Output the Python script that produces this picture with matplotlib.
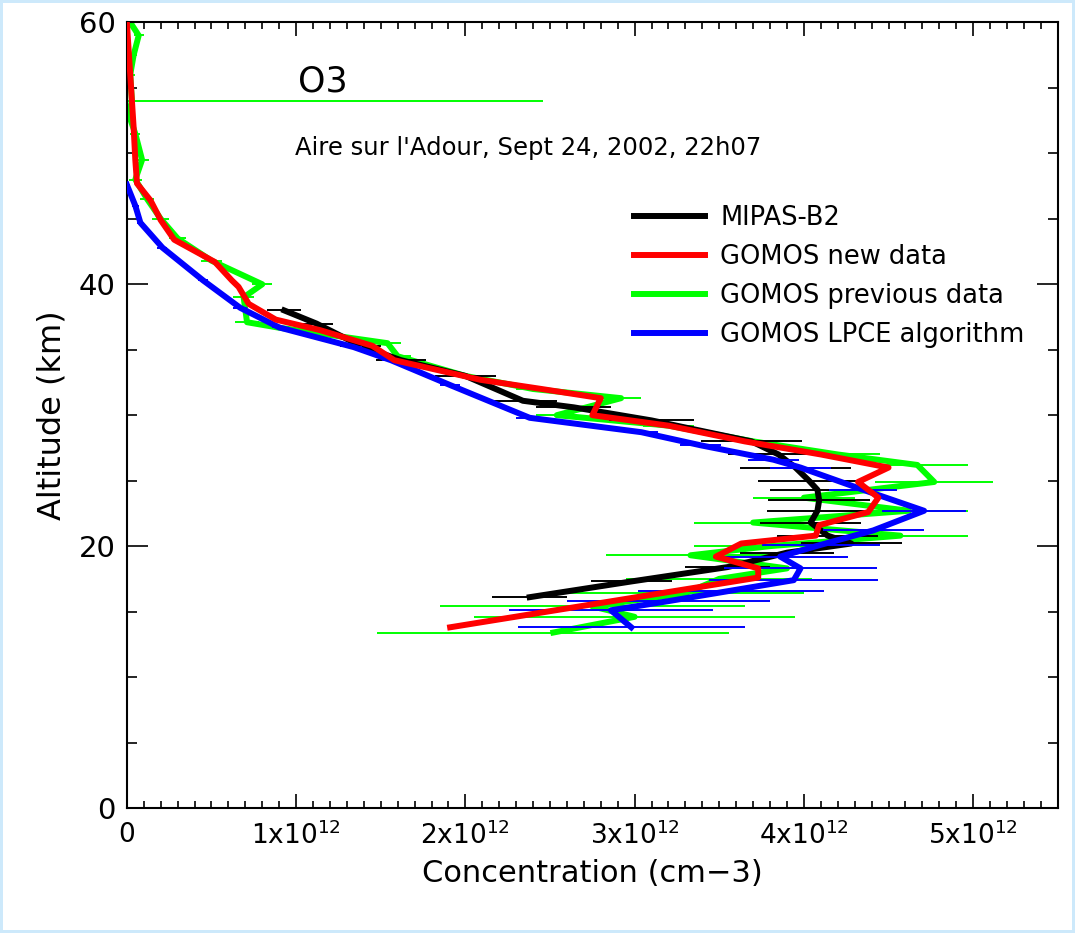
import matplotlib.pyplot as plt
from matplotlib.ticker import MultipleLocator

# MIPAS-B2
mipas_alt = [38.0, 37.0, 35.3, 34.2, 33.0, 31.1, 30.6, 29.6, 28.0, 27.0, 26.0, 25.0, 24.3,
             23.5, 22.7, 21.8, 20.8, 20.2, 19.5, 18.4, 17.3, 16.1]
mipas_x = [0.93, 1.12, 1.38, 1.62, 2.0, 2.34, 2.64, 3.1, 3.69, 3.85, 3.95, 4.03, 4.08,
           4.09, 4.08, 4.04, 4.14, 4.28, 3.9, 3.55, 2.98, 2.38]
mipas_err = [0.1, 0.1, 0.12, 0.15, 0.18, 0.2, 0.22, 0.25, 0.3, 0.3, 0.33, 0.3, 0.28,
             0.3, 0.3, 0.3, 0.3, 0.3, 0.28, 0.25, 0.24, 0.22]

# GOMOS new data
new_alt = [60, 56, 52, 49.5, 47.7, 46.4, 44.9, 43.4, 41.7, 40.3, 39.8, 38.5, 37.3, 36.5,
           35.3, 34.2, 32.7, 32.0, 31.3, 30.0, 29.2, 28.0, 27.0, 26.0, 24.9, 23.7, 22.6,
           21.6, 20.8, 20.2, 19.2, 18.3, 17.6, 15.7, 13.8]
new_x = [0.0, 0.02, 0.04, 0.05, 0.06, 0.14, 0.2, 0.28, 0.52, 0.62, 0.66, 0.72, 0.88, 1.14,
         1.45, 1.58, 2.09, 2.45, 2.8, 2.75, 3.2, 3.65, 4.1, 4.5, 4.32, 4.44, 4.38,
         4.09, 4.07, 3.63, 3.48, 3.73, 3.73, 2.82, 1.91]

# GOMOS previous data
prev_alt = [60, 59, 57.5, 56, 54.0, 53, 51.5, 49.5, 48, 46.5, 45, 43.5, 41.8, 40.0, 39.0,
            37.1, 36.7, 35.5, 34.5, 33.0, 32.0, 31.3, 30.0, 29.2, 28.0, 27.0, 26.2, 24.9,
            23.7, 22.7, 21.8, 20.8, 20.0, 19.3, 18.3, 17.5, 16.4, 15.4, 14.6, 13.4]
prev_x = [0.02, 0.07, 0.04, 0.02, 0.03, 0.01, 0.05, 0.09, 0.05, 0.12, 0.2, 0.3, 0.5, 0.8,
          0.69, 0.71, 0.89, 1.54, 1.6, 2.0, 2.4, 2.92, 2.54, 3.2, 3.7, 4.2, 4.67, 4.77,
          4.0, 4.62, 3.7, 4.57, 3.8, 3.33, 3.9, 3.5, 3.3, 2.75, 3.0, 2.52]
prev_err = [0.02, 0.03, 0.02, 0.03, 2.43, 0.03, 0.03, 0.04, 0.04, 0.04, 0.05, 0.05, 0.06,
            0.06, 0.06, 0.07, 0.07, 0.08, 0.08, 0.1, 0.1, 0.12, 0.12, 0.15, 0.2, 0.25,
            0.3, 0.35, 0.3, 0.35, 0.35, 0.4, 0.45, 0.5, 0.5, 0.55, 0.7, 0.9, 0.95, 1.04]

# GOMOS LPCE algorithm
lpce_alt = [47.6, 46.0, 44.7, 42.8, 40.3, 38.2, 36.7, 35.2, 34.2, 32.3, 29.8, 28.7, 27.7,
            26.6, 26.0, 24.3, 22.7, 21.2, 20.1, 19.2, 18.3, 17.4, 16.6, 15.8, 15.1, 13.8]
lpce_x = [0.0, 0.05, 0.08, 0.21, 0.45, 0.67, 0.9, 1.34, 1.56, 1.91, 2.38, 3.04, 3.39,
          3.82, 3.98, 4.35, 4.71, 4.41, 4.1, 3.86, 3.98, 3.94, 3.57, 3.2, 2.86, 2.98]
lpce_err = [0.02, 0.02, 0.02, 0.03, 0.03, 0.04, 0.04, 0.05, 0.05, 0.06, 0.08, 0.1, 0.12,
            0.15, 0.18, 0.2, 0.25, 0.3, 0.35, 0.4, 0.45, 0.5, 0.55, 0.6, 0.6, 0.67]

xtick_vals = [0, 1, 2, 3, 4, 5]
xtick_labels = ['0', r'1x10$^{12}$', r'2x10$^{12}$', r'3x10$^{12}$', r'4x10$^{12}$', r'5x10$^{12}$']
ytick_vals = [0, 20, 40, 60]

scale = 1e12

fig = plt.figure(figsize=(10.75, 9.33), dpi=100)
fig.patch.set_edgecolor('#cde9fb')
fig.patch.set_linewidth(3)
ax = fig.add_axes([0.118, 0.134, 0.866, 0.842])

lw = 4.3
ax.errorbar([v * scale for v in prev_x], prev_alt, xerr=[e * scale for e in prev_err],
            color='#00ff00', lw=lw, elinewidth=1.4, capsize=0, label='GOMOS previous data', zorder=2)
ax.errorbar([v * scale for v in mipas_x], mipas_alt, xerr=[e * scale for e in mipas_err],
            color='black', lw=lw, elinewidth=1.4, capsize=0, label='MIPAS-B2', zorder=3)
ax.errorbar([v * scale for v in lpce_x], lpce_alt, xerr=[e * scale for e in lpce_err],
            color='#0000ff', lw=lw, elinewidth=1.4, capsize=0, label='GOMOS LPCE algorithm', zorder=4)
ax.plot([v * scale for v in new_x], new_alt, color='#ff0000', lw=lw,
        label='GOMOS new data', zorder=5)

ax.set_xlim(0, 5.5e12)
ax.set_ylim(0, 60)
ax.set_xticks([v * scale for v in xtick_vals])
ax.set_xticklabels(xtick_labels, fontsize=19)
ax.set_yticks(ytick_vals)
ax.set_yticklabels([str(v) for v in ytick_vals], fontsize=21)
ax.xaxis.set_minor_locator(MultipleLocator(1e11))
ax.yaxis.set_minor_locator(MultipleLocator(5))
ax.tick_params(which='both', direction='in', top=True, right=True, width=1.2)
ax.tick_params(axis='x', which='major', length=10, pad=10)
ax.tick_params(axis='x', which='minor', length=5)
ax.tick_params(axis='y', which='major', length=15, pad=8)
ax.tick_params(axis='y', which='minor', length=7)
for sp in ax.spines.values():
    sp.set_linewidth(1.5)

ax.set_xlabel('Concentration (cm\u22123)', fontsize=22, labelpad=6)
ax.set_ylabel('Altitude (km)', fontsize=23, labelpad=8)

ax.text(0.184, 0.925, 'O3', transform=ax.transAxes, fontsize=25, ha='left', va='center')
ax.text(0.181, 0.84, "Aire sur l'Adour, Sept 24, 2002, 22h07", transform=ax.transAxes,
        fontsize=17.5, ha='left', va='center')

h, l = ax.get_legend_handles_labels()
order = ['MIPAS-B2', 'GOMOS new data', 'GOMOS previous data', 'GOMOS LPCE algorithm']
hs = [h[l.index(k)] for k in order]
ax.legend(hs, order, loc='upper left', bbox_to_anchor=(0.545, 0.767), frameon=False,
          fontsize=18.5, handlelength=2.75, handletextpad=0.6, labelspacing=0.5,
          borderaxespad=0, borderpad=0)

fig.savefig('out.png', dpi=100)
